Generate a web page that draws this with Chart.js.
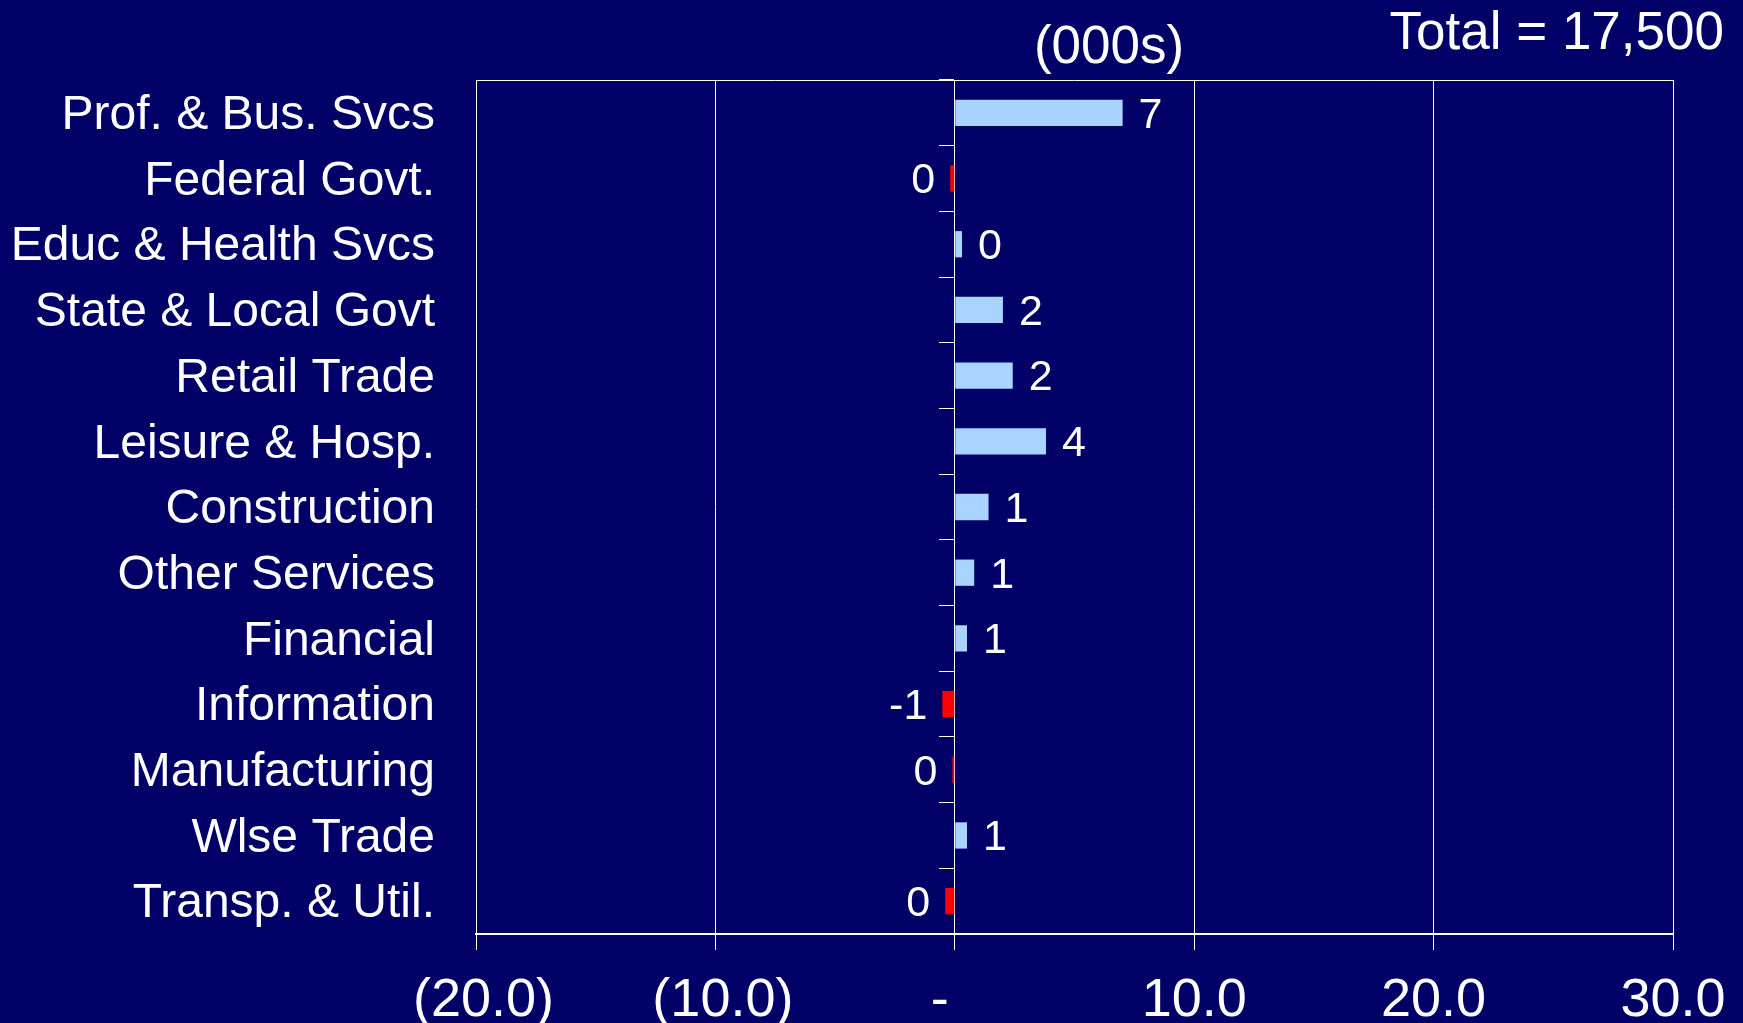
<!DOCTYPE html>
<html>
<head>
<meta charset="utf-8">
<script src="https://cdn.jsdelivr.net/npm/chart.js@4.4.0/dist/chart.umd.min.js"></script>
<style>
html, body { margin: 0; padding: 0; background: #000066; }
#wrap { width: 1743px; height: 1023px; }
</style>
</head>
<body>
<div id="wrap"><canvas id="jobs-chart"></canvas></div>
<script>
// data (thousands of jobs)
var categories = ['Prof. & Bus. Svcs', 'Federal Govt.', 'Educ & Health Svcs', 'State & Local Govt',
    'Retail Trade', 'Leisure & Hosp.', 'Construction', 'Other Services', 'Financial',
    'Information', 'Manufacturing', 'Wlse Trade', 'Transp. & Util.'];
var changes = [7.01, -0.19, 0.30, 2.01, 2.42, 3.81, 1.41, 0.81, 0.51, -0.52, -0.10, 0.51, -0.40];
var xTicks = [-20, -10, 0, 10, 20, 30];
var unitsLabel = '(000s)';
var totalLabel = 'Total = 17,500';

var FONT = '"Liberation Sans", Arial, sans-serif';

// accounting style like the original sheet: (20.0), -, 10.0
function formatTick(v) {
    if (v === 0) return '-  ';
    if (v < 0) return ' (' + Math.abs(v).toFixed(1) + ')';
    return v.toFixed(1);
}

function formatValue(v) {
    var r = Math.sign(v) * Math.round(Math.abs(v));
    return r === 0 ? '0' : String(r);
}

// value labels next to each bar
var barLabels = {
    id: 'barLabels',
    afterDatasetsDraw: function(chart) {
        var ctx = chart.ctx;
        var meta = chart.getDatasetMeta(0);
        ctx.save();
        ctx.font = '43px ' + FONT;
        ctx.fillStyle = '#ffffff';
        ctx.textBaseline = 'middle';
        meta.data.forEach(function(bar, i) {
            var v = changes[i];
            if (v >= 0) {
                ctx.textAlign = 'left';
                ctx.fillText(formatValue(v), bar.x + 16, bar.y + 3);
            } else {
                ctx.textAlign = 'right';
                ctx.fillText(formatValue(v), bar.x - 15, bar.y + 3);
            }
        });
        ctx.restore();
    }
};

// top frame line and the two header texts
var frameAndTitles = {
    id: 'frameAndTitles',
    afterDraw: function(chart) {
        var ctx = chart.ctx;
        var area = chart.chartArea;
        ctx.save();
        ctx.strokeStyle = '#ffffff';
        ctx.lineWidth = 1;
        ctx.beginPath();
        ctx.moveTo(area.left, area.top + 0.5);
        ctx.lineTo(area.right, area.top + 0.5);
        ctx.stroke();

        ctx.fillStyle = '#ffffff';
        ctx.font = '53px ' + FONT;
        ctx.textBaseline = 'middle';
        ctx.textAlign = 'center';
        ctx.fillText(unitsLabel, 1109, 48);
        ctx.textAlign = 'right';
        ctx.fillText(totalLabel, 1724, 34);
        ctx.restore();
    }
};

var ctx = document.getElementById('jobs-chart').getContext('2d');
var chart = new Chart(ctx, {
    type: 'bar',
    data: {
        labels: categories,
        datasets: [{
            data: changes,
            backgroundColor: changes.map(v => v >= 0 ? '#a8d4ff' : '#ff0000'),
            borderWidth: 0,
            barPercentage: 0.4,
            categoryPercentage: 1.0,
            yAxisID: 'y'
        }]
    },
    options: {
        indexAxis: 'y',
        responsive: true,
        maintainAspectRatio: false,
        animation: false,
        layout: { padding: { top: 80, right: 70, left: 0, bottom: 0 } },
        plugins: {
            legend: { display: false },
            tooltip: { enabled: false }
        },
        scales: {
            x: {
                type: 'linear',
                position: 'bottom',
                min: -20,
                max: 30,
                afterBuildTicks: function(scale) {
                    scale.ticks = xTicks.map(v => ({ value: v }));
                },
                afterFit: function(scale) {
                    scale.height = 89;
                    scale.paddingLeft = 0;
                    scale.paddingRight = 0;
                },
                grid: { color: '#ffffff', lineWidth: 1, tickLength: 16 },
                border: { color: '#ffffff', width: 2 },
                ticks: {
                    color: '#ffffff',
                    font: { family: FONT, size: 54 },
                    padding: 19,
                    maxRotation: 0,
                    autoSkip: false,
                    callback: function(v) { return formatTick(v); }
                }
            },
            y: {
                type: 'category',
                position: 'left',
                afterFit: function(scale) { scale.width = 476; },
                grid: { display: false },
                border: { display: false },
                ticks: {
                    color: '#ffffff',
                    font: { family: FONT, size: 48 },
                    padding: 33,
                    labelOffset: 3,
                    autoSkip: false
                }
            },
            yz: {
                type: 'category',
                position: { x: 0 },
                grid: { display: true, offset: true, drawOnChartArea: false, color: '#ffffff', tickLength: 15 },
                border: { display: true, color: '#ffffff', width: 1 },
                ticks: { display: false }
            }
        }
    },
    plugins: [barLabels, frameAndTitles]
});
</script>
</body>
</html>
